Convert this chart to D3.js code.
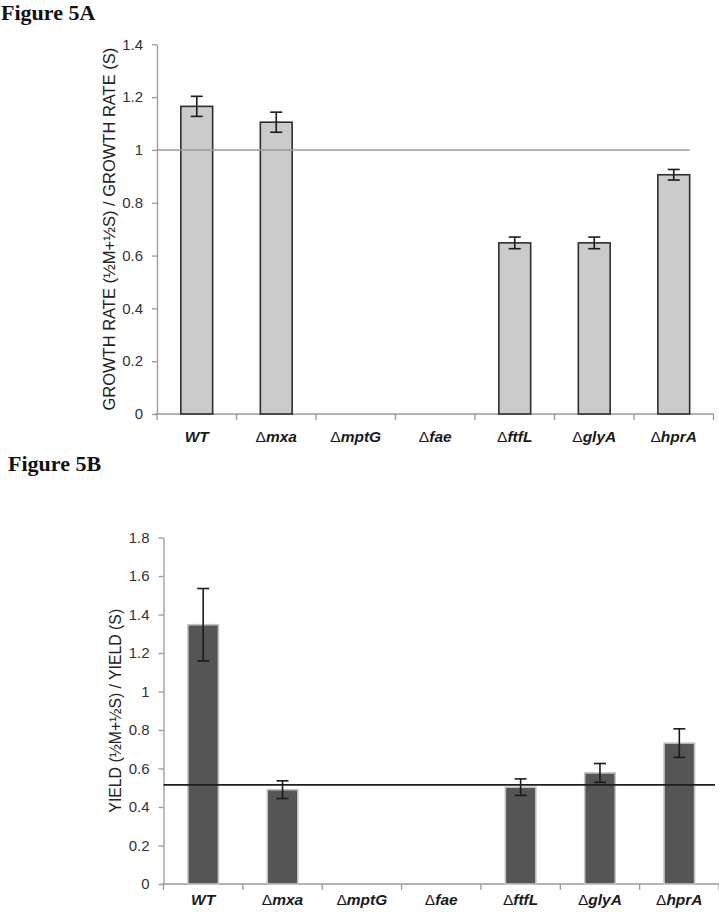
<!DOCTYPE html>
<html>
<head>
<meta charset="utf-8">
<script src="https://cdn.jsdelivr.net/npm/d3@7"></script>
<style>
  body { margin: 0; background: #fff; }
  svg { display: block; }
</style>
</head>
<body>
<div id="field"></div>
<script>
const categories = ['WT', 'mxa', 'mptG', 'fae', 'ftfL', 'glyA', 'hprA']
const hasDelta = [false, true, true, true, true, true, true]

// figure 5A: growth rate ratio
const growthMean = [1.165, 1.105, null, null, 0.648, 0.648, 0.906]
const growthErr = [0.038, 0.038, null, null, 0.022, 0.022, 0.02]
const growthTicks = [0, 0.2, 0.4, 0.6, 0.8, 1, 1.2, 1.4]
const growthRef = 1

// figure 5B: yield ratio
const yieldMean = [1.347, 0.49, null, null, 0.503, 0.577, 0.732]
const yieldErr = [0.188, 0.046, null, null, 0.043, 0.049, 0.074]
const yieldTicks = [0, 0.2, 0.4, 0.6, 0.8, 1, 1.2, 1.4, 1.6, 1.8]
const yieldRef = 0.515

const width = 719
const height = 912

const svg = d3.select('#field').append('svg')
  .attr('width', width)
  .attr('height', height)
  .style('background-color', '#fff')

const tickFmt = d => d3.format('.1f')(d).replace(/\.0$/, '')

const makePanel = (opts) => {
  const x = d3.scaleBand().domain(categories).range(opts.xRange).padding(0)
  const y = d3.scaleLinear().domain([0, opts.yMax]).range(opts.yRange)
  const g = svg.append('g')
  const data = categories.map((c, i) => ({ c: c, i: i, v: opts.mean[i], e: opts.err[i] }))
    .filter(d => d.v !== null)
  const bw = x.bandwidth() * opts.barFrac

  // y axis
  const yAxis = g.append('g')
    .attr('transform', `translate(${opts.xRange[0]},0)`)
    .call(d3.axisLeft(y).tickValues(opts.ticks).tickFormat(tickFmt).tickSize(5).tickSizeOuter(0).tickPadding(9))
  yAxis.select('.domain').attr('stroke', '#9a9a9a').attr('stroke-width', 1.3)
  yAxis.selectAll('.tick line').attr('stroke', '#9a9a9a').attr('stroke-width', 1.3)
  yAxis.selectAll('.tick text')
    .attr('fill', '#333')
    .style('font-family', '"Liberation Sans", Arial, sans-serif')
    .style('font-size', '15px')

  // x axis line and ticks at band edges
  const y0 = y(0)
  g.append('line')
    .attr('x1', opts.xRange[0] - 2).attr('x2', opts.xRange[1])
    .attr('y1', y0).attr('y2', y0)
    .attr('stroke', '#9a9a9a').attr('stroke-width', 1.3)
  const edges = categories.map(c => x(c)).concat([x(categories[categories.length - 1]) + x.step()])
  g.selectAll('.xtick').data(edges).enter().append('line')
    .attr('x1', d => d).attr('x2', d => d)
    .attr('y1', y0).attr('y2', y0 + 6)
    .attr('stroke', '#9a9a9a').attr('stroke-width', 1.3)

  // category labels
  const lab = g.selectAll('.xlab').data(categories).enter().append('text')
    .attr('x', d => x(d) + x.bandwidth() / 2)
    .attr('y', y0 + opts.labelDy)
    .attr('text-anchor', 'middle')
    .attr('fill', '#1a1a1a')
    .style('font-family', '"Liberation Sans", Arial, sans-serif')
    .style('font-size', '15.5px')
  lab.each(function(d, i) {
    const t = d3.select(this)
    if (hasDelta[i]) t.append('tspan').style('font-weight', 'normal').text('\u0394')
    t.append('tspan').style('font-weight', 'bold').style('font-style', 'italic').text(d)
  })

  // bars
  g.selectAll('.bar').data(data).enter().append('rect')
    .attr('x', d => x(d.c) + x.bandwidth() / 2 - bw / 2)
    .attr('y', d => y(d.v))
    .attr('width', bw)
    .attr('height', d => y0 - y(d.v))
    .attr('fill', opts.fill)
    .attr('stroke', opts.stroke)
    .attr('stroke-width', opts.strokeWidth)

  // reference line
  g.append('line')
    .attr('x1', opts.xRange[0]).attr('x2', opts.refEnd(x, bw))
    .attr('y1', y(opts.ref)).attr('y2', y(opts.ref))
    .attr('stroke', opts.refColor).attr('stroke-width', 1.6)

  // error bars
  const cap = 6
  const eb = g.selectAll('.err').data(data).enter().append('g')
    .attr('stroke', '#1a1a1a').attr('stroke-width', 1.6)
  eb.append('line')
    .attr('x1', d => x(d.c) + x.bandwidth() / 2).attr('x2', d => x(d.c) + x.bandwidth() / 2)
    .attr('y1', d => y(d.v + d.e)).attr('y2', d => y(d.v - d.e))
  eb.append('line')
    .attr('x1', d => x(d.c) + x.bandwidth() / 2 - cap).attr('x2', d => x(d.c) + x.bandwidth() / 2 + cap)
    .attr('y1', d => y(d.v + d.e)).attr('y2', d => y(d.v + d.e))
  eb.append('line')
    .attr('x1', d => x(d.c) + x.bandwidth() / 2 - cap).attr('x2', d => x(d.c) + x.bandwidth() / 2 + cap)
    .attr('y1', d => y(d.v - d.e)).attr('y2', d => y(d.v - d.e))

  // y label
  g.append('text')
    .attr('transform', `translate(${opts.labelX},${(opts.yRange[0] + opts.yRange[1]) / 2}) rotate(-90)`)
    .attr('text-anchor', 'middle')
    .attr('dominant-baseline', 'central')
    .attr('fill', '#222')
    .style('font-family', '"Liberation Sans", Arial, sans-serif')
    .style('font-size', opts.labelSize)
    .text(opts.yLabel)

  // figure title
  svg.append('text')
    .attr('x', opts.titleX).attr('y', opts.titleY)
    .attr('fill', '#111')
    .style('font-family', '"Liberation Serif", "Times New Roman", serif')
    .style('font-weight', 'bold')
    .style('font-size', '22px')
    .text(opts.title)
}

makePanel({
  title: 'Figure 5A', titleX: 1, titleY: 20,
  xRange: [157, 713.5], yRange: [414, 44.3], yMax: 1.4,
  mean: growthMean, err: growthErr, ticks: growthTicks, ref: growthRef,
  fill: '#cbcbcb', stroke: '#2e2e2e', strokeWidth: 1.6, barFrac: 0.4,
  refColor: '#9a9a9a',
  refEnd: (x, bw) => x(categories[categories.length - 1]) + x.bandwidth() / 2 + bw / 2,
  labelDy: 28, labelX: 109, labelSize: '16.5px',
  yLabel: 'GROWTH RATE (\u00bdM+\u00bdS) / GROWTH RATE (S)'
})

makePanel({
  title: 'Figure 5B', titleX: 8, titleY: 471,
  xRange: [163.5, 719], yRange: [884, 537.5], yMax: 1.8,
  mean: yieldMean, err: yieldErr, ticks: yieldTicks, ref: yieldRef,
  fill: '#555555', stroke: '#c4c4c4', strokeWidth: 1.6, barFrac: 0.385,
  refColor: '#1e1e1e',
  refEnd: (x, bw) => x.range()[1] - 4,
  labelDy: 21, labelX: 115, labelSize: '15.8px',
  yLabel: 'YIELD (\u00bdM+\u00bdS) / YIELD (S)'
})
</script>
</body>
</html>
